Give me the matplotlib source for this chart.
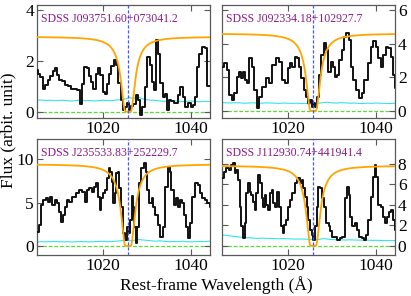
import matplotlib
matplotlib.use('Agg', force=True)

import numpy as np
import matplotlib.pyplot as plt

plt.rcParams['font.family'] = ['Liberation Serif', 'DejaVu Serif']
plt.rcParams['mathtext.fontset'] = 'stix'

# 四个类星体的名字
names = ["SDSS J093751.60+073041.2", "SDSS J092334.18+102927.7",
         "SDSS J235533.83+252229.7", "SDSS J112930.74+441941.4"]

# Lyβ 中心波长
lyb = 1025.72

# 连续谱水平 和 阻尼翼强度 (拟合参数)
cont_level = [2.95, 4.6, 9.4, 7.8]
damp_strength = [2.3, 2.3, 2.3, 2.3]

# 光谱 (波长, 流量)
wl_a = [1005.0, 1005.6, 1006.1, 1006.6, 1007.2, 1007.7, 1008.4, 1009.0, 1009.4, 1009.9,
        1010.3, 1011.0, 1011.8, 1012.4, 1013.0, 1013.8, 1014.5, 1015.0, 1015.5, 1016.0,
        1016.7, 1017.1, 1017.5, 1018.1, 1018.7, 1019.1, 1019.7, 1020.2, 1020.7, 1021.2,
        1021.6, 1022.2, 1022.7, 1023.2, 1023.8, 1024.4, 1024.8, 1025.3, 1025.7, 1026.1,
        1026.6, 1027.2, 1027.7, 1028.2, 1028.7, 1029.2, 1029.8, 1030.4, 1030.9, 1031.5,
        1031.9, 1032.4, 1032.8, 1033.3, 1033.9, 1034.3, 1034.9, 1035.3, 1035.8, 1036.6,
        1037.3, 1037.9, 1038.4, 1038.9, 1039.6, 1040.2, 1040.7, 1041.1, 1041.6, 1042.2,
        1042.9, 1043.4, 1043.9, 1044.4]
flux_a = [1.64, 1.50, 1.37, 0.91, 1.05, 1.24, 1.40, 1.60, 1.70, 1.45,
          1.24, 1.20, 1.05, 1.00, 0.91, 0.88, 0.85, 0.30, 1.10, 1.76,
          1.70, 1.40, 1.18, 0.91, 1.50, 1.70, 1.44, 0.79, 0.68, 1.10,
          1.50, 1.80, 2.03, 1.83, 1.11, 0.46, 0.07, 0.20, 0.33, 0.07,
          0.22, 0.30, 0.65, 0.46, -0.13, 0.20, 0.98, 2.16, 1.83, 1.18,
          0.85, 2.81, 2.29, 1.11, 0.59, 0.70, 0.07, 0.46, 0.40, 0.33,
          0.65, 0.98, 0.59, 0.20, 0.33, 0.20, 0.26, 0.59, 1.76, 2.29,
          2.55, 2.50, 1.00, 1.00]

wl_b = [1005.3, 1005.8, 1006.3, 1006.9, 1007.5, 1008.1, 1008.6, 1009.0, 1009.6, 1010.0,
        1010.3, 1010.9, 1011.5, 1012.1, 1012.6, 1013.2, 1013.8, 1014.5, 1015.3, 1016.1,
        1016.8, 1017.6, 1018.3, 1018.9, 1019.7, 1020.2, 1020.6, 1021.2, 1021.8, 1022.4,
        1022.7, 1023.3, 1023.8, 1024.4, 1024.8, 1025.2, 1025.6, 1025.9, 1026.3, 1026.7,
        1027.3, 1027.9, 1028.4, 1028.8, 1029.4, 1029.9, 1030.4, 1030.9, 1031.4, 1031.9,
        1032.4, 1032.9, 1033.6, 1033.9, 1034.5, 1035.1, 1035.8, 1036.4, 1037.0, 1037.7,
        1038.5, 1039.0, 1039.6, 1040.3, 1040.8, 1041.3, 1041.9, 1042.5, 1043.1, 1043.6,
        1044.2, 1044.6]
flux_b = [2.64, 2.84, 2.44, 0.95, 0.65, 1.05, 2.04, 2.34, 1.94, 2.34,
          1.85, 1.65, 3.13, 2.64, 1.25, 0.16, 0.85, 1.45, 1.94, 1.65,
          2.74, 3.13, 2.93, 1.85, 1.65, 2.54, 2.84, 2.64, 3.23, 3.13,
          2.64, 1.94, 1.25, 0.85, 0.46, 0.65, 0.26, 0.46, 0.26, 0.85,
          2.14, 3.33, 4.03, 3.63, 2.34, 2.93, 2.64, 2.04, 2.14, 3.04,
          3.63, 4.42, 4.62, 4.23, 2.64, 1.85, 1.25, 0.75, 1.05, 1.85,
          2.84, 3.83, 4.13, 3.83, 3.13, 2.64, 3.33, 3.83, 3.73, 3.23,
          2.14, 1.35]

wl_c = [1005.35, 1005.8, 1006.3, 1006.7, 1007.3, 1007.8, 1008.2, 1008.8, 1009.3, 1009.8,
        1010.4, 1010.8, 1011.2, 1011.6, 1012.0, 1012.7, 1013.4, 1014.2, 1014.9, 1015.7,
        1016.3, 1016.7, 1017.2, 1017.8, 1018.3, 1018.7, 1019.1, 1019.4, 1019.8, 1020.3,
        1020.8, 1021.1, 1021.5, 1021.9, 1022.2, 1022.6, 1022.8, 1023.2, 1023.6, 1023.9,
        1024.3, 1024.8, 1025.3, 1025.7, 1026.0, 1026.4, 1026.7, 1026.9, 1027.3, 1027.7,
        1028.0, 1028.4, 1029.0, 1029.6, 1029.9, 1030.3, 1030.8, 1031.3, 1031.6, 1032.2,
        1032.8, 1033.3, 1033.8, 1034.4, 1035.0, 1035.3, 1035.8, 1036.3, 1036.7, 1037.3,
        1037.8, 1038.2, 1038.5, 1039.1, 1039.5, 1040.0, 1040.6, 1041.2, 1041.8, 1042.3,
        1042.8, 1043.4, 1044.0, 1044.5]
flux_c = [1.64, 2.41, 4.71, 5.29, 5.48, 5.10, 5.67, 4.71, 5.29, 4.90,
          3.95, 2.80, 3.56, 4.52, 5.29, 5.10, 5.67, 6.05, 6.44, 6.25,
          5.10, 6.44, 6.63, 6.25, 6.82, 7.20, 5.67, 4.14, 5.48, 6.05,
          6.44, 7.78, 8.92, 8.55, 7.40, 4.90, 6.05, 8.35, 8.55, 6.63,
          4.52, 1.46, 0.69, 2.22, 1.46, 2.99, 5.80, 4.52, 2.22, 0.31,
          2.22, 7.20, 8.92, 9.50, 8.55, 6.44, 4.90, 5.48, 4.52, 3.56,
          2.41, 1.07, 2.22, 6.82, 9.12, 8.55, 6.44, 4.71, 5.48, 4.52,
          5.29, 4.90, 3.56, 2.22, 0.88, 2.60, 5.67, 7.20, 7.00, 6.05,
          5.48, 5.29, 4.90, 4.50]

wl_d = [1005.25, 1005.55, 1006.2, 1006.8, 1007.3, 1007.7, 1008.1, 1008.4, 1008.8, 1009.2,
        1009.6, 1010.0, 1010.3, 1010.7, 1011.1, 1011.5, 1011.9, 1012.2, 1012.6, 1013.0,
        1013.4, 1013.8, 1014.2, 1014.5, 1014.9, 1015.3, 1015.7, 1016.1, 1016.4, 1016.8,
        1017.2, 1017.7, 1018.2, 1018.5, 1019.0, 1019.2, 1019.7, 1020.2, 1020.6, 1021.2,
        1021.8, 1022.1, 1022.5, 1022.9, 1023.3, 1023.7, 1024.0, 1024.4, 1024.8, 1025.2,
        1025.6, 1025.9, 1026.3, 1026.7, 1027.1, 1027.5, 1027.9, 1028.4, 1029.0, 1029.4,
        1029.7, 1030.4, 1030.9, 1031.4, 1032.0, 1032.6, 1033.2, 1033.6, 1033.9, 1034.3,
        1034.9, 1035.5, 1035.8, 1036.4, 1037.0, 1037.5, 1038.0, 1038.5, 1039.0, 1039.5,
        1039.8, 1040.3, 1040.8, 1041.3, 1041.9, 1042.3, 1042.7, 1043.1, 1043.6, 1044.1,
        1044.6]
flux_d = [6.57, 7.22, 7.54, 7.38, 7.86, 8.03, 7.06, 7.38, 6.41, 3.82,
          1.88, 0.74, 2.20, 5.11, 6.08, 5.27, 4.95, 4.30, 3.50, 5.11,
          6.90, 6.08, 4.63, 3.82, 4.95, 3.98, 3.50, 5.11, 5.44, 4.14,
          3.82, 5.27, 3.82, 1.88, 1.23, 2.04, 2.53, 3.82, 4.47, 5.11,
          6.08, 6.41, 6.57, 6.08, 6.41, 5.60, 4.79, 3.82, 2.53, 1.55,
          1.07, 0.58, 1.88, 3.82, 5.76, 5.60, 4.63, 3.82, 2.20, 1.88,
          1.40, 0.90, 0.90, 0.58, 0.74, 0.90, 4.63, 5.76, 4.95, 2.85,
          1.88, 2.20, 1.55, 0.90, 0.74, 0.58, 1.07, 2.53, 4.79, 6.73,
          7.86, 6.73, 3.98, 3.82, 2.85, 2.20, 2.85, 3.33, 3.50, 2.53,
          1.55]

# 误差谱 (1 Å 间隔)
wl_err = list(range(1005, 1046))
err_a = [0.45, 0.46, 0.44, 0.45, 0.43, 0.44, 0.45, 0.43, 0.42, 0.44, 0.45, 0.43, 0.44, 0.42,
         0.43, 0.45, 0.44, 0.43, 0.46, 0.47, 0.50, 0.55, 0.52, 0.58, 0.50, 0.47, 0.45, 0.44,
         0.42, 0.40, 0.41, 0.43, 0.42, 0.40, 0.41, 0.42, 0.40, 0.39, 0.41, 0.40, 0.40]
err_b = [0.50, 0.48, 0.47, 0.49, 0.48, 0.46, 0.47, 0.48, 0.47, 0.46, 0.48, 0.47, 0.46, 0.45,
         0.47, 0.46, 0.45, 0.46, 0.44, 0.45, 0.40, 0.42, 0.46, 0.50, 0.52, 0.48, 0.47, 0.49,
         0.48, 0.46, 0.47, 0.45, 0.44, 0.46, 0.45, 0.47, 0.46, 0.45, 0.44, 0.45, 0.46]
err_c = [0.45, 0.50, 0.48, 0.50, 0.52, 0.50, 0.48, 0.50, 0.47, 0.50, 0.52, 0.50, 0.48, 0.50,
         0.52, 0.55, 0.50, 0.52, 0.55, 0.60, 0.70, 0.60, 0.65, 0.75, 0.70, 0.65, 0.60, 0.55,
         0.60, 0.55, 0.50, 0.52, 0.50, 0.55, 0.50, 0.48, 0.50, 0.52, 0.50, 0.55, 0.52]
err_d = [1.05, 1.00, 0.95, 0.90, 0.85, 0.80, 0.78, 0.75, 0.72, 0.75, 0.72, 0.70, 0.70, 0.68,
         0.70, 0.68, 0.66, 0.65, 0.66, 0.64, 0.62, 0.60, 0.62, 0.70, 0.65, 0.60, 0.60, 0.58,
         0.56, 0.58, 0.56, 0.55, 0.54, 0.55, 0.52, 0.53, 0.52, 0.50, 0.52, 0.50, 0.50]

y_ticks = [[0, 2, 4], [0, 2, 4, 6], [0, 5, 10], [0, 2, 4, 6, 8]]
y_lims = [(-0.25, 4.2), (-0.42, 6.3), (-1.03, 12.3), (-0.9, 10.4)]

spectra = [(wl_a, flux_a, err_a), (wl_b, flux_b, err_b),
           (wl_c, flux_c, err_c), (wl_d, flux_d, err_d)]

W, H = 411, 296
fig = plt.figure(figsize=(W / 100, H / 100), dpi=100)

# 面板位置 (像素)
boxes = [(36.7, 5, 210, 118), (222, 5, 395, 118),
         (36.7, 139, 210, 255), (222, 139, 395, 255)]

model_wl = np.linspace(1004, 1046, 800)
frame_col = '0.35'

for i, (x0, y0, x1, y1) in enumerate(boxes):
    ax = fig.add_axes([x0 / W, 1 - y1 / H, (x1 - x0) / W, (y1 - y0) / H])
    wl, fl, er = spectra[i]

    ax.axhline(0, color='#55dd33', ls='--', lw=0.9, dashes=(3, 1.5), zorder=1)
    ax.plot(wl_err, er, color='#33e6e6', lw=0.8, zorder=2)
    ax.plot(wl, fl, color='#111111', lw=1.4, drawstyle='steps-mid', zorder=3)

    dl = model_wl - lyb
    model = cont_level[i] * np.exp(-damp_strength[i] / (dl ** 2 + 1e-6))
    ax.plot(model_wl, model, color='#ffa500', lw=1.3, zorder=4)
    ax.axvline(lyb, color='#4455ff', ls='--', lw=0.9, dashes=(2.5, 1.5), zorder=5)

    ax.set_xlim(1005, 1044.3)
    ax.set_ylim(*y_lims[i])
    ax.set_xticks([1020, 1040])
    ax.set_yticks(y_ticks[i])
    ax.tick_params(direction='in', top=True, right=True, length=4, width=0.8,
                   colors=frame_col, labelcolor='black', labelsize=12.5, pad=2)
    if i % 2 == 1:
        ax.yaxis.tick_right()
        ax.yaxis.set_ticks_position('both')
        ax.tick_params(labelleft=False, labelright=True)
    for sp in ax.spines.values():
        sp.set_color(frame_col)
        sp.set_linewidth(0.9)

    ax.text(0.025, 0.93, names[i], transform=ax.transAxes, color='#8b1a8b',
            fontsize=8.5, va='top', ha='left', zorder=6)

fig.text(8 / W, 1 - 130 / H, 'Flux (arbit. unit)', rotation=90,
         ha='center', va='center', fontsize=12.5)
fig.text(216 / W, 1 - 285 / H, 'Rest-frame Wavelength (Å)',
         ha='center', va='center', fontsize=12.5)

fig.savefig('out.png', dpi=100)
plt.close(fig)
